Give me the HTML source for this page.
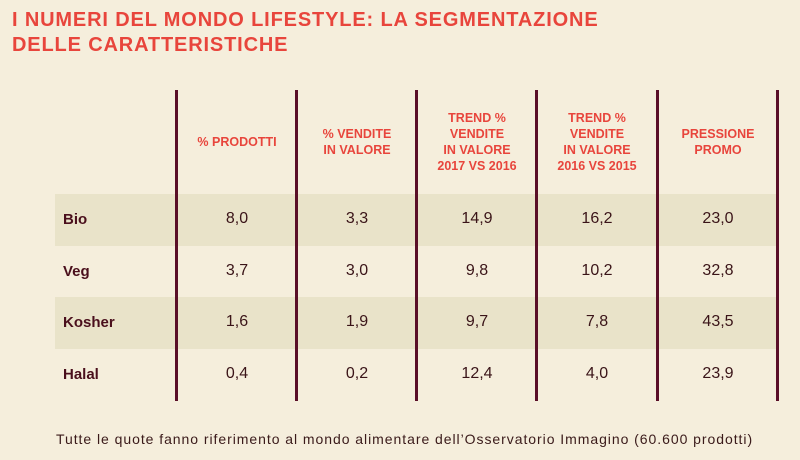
<!DOCTYPE html>
<html><head><meta charset="utf-8"><style>
body{margin:0;width:800px;height:460px;background:#f5eedc;position:relative;overflow:hidden;font-family:"Liberation Sans",sans-serif}
.t{position:absolute;left:12px;top:8px;color:#e8453c;font-weight:bold;font-size:20px;line-height:25px;letter-spacing:0.85px}
.band{position:absolute;left:55px;width:722px;height:52px;background:#e9e3c9}
.bar{position:absolute;top:90px;width:3px;height:311px;background:#5a0f28}
.h{position:absolute;color:#e8453c;font-weight:bold;font-size:12.5px;line-height:16px;text-align:center;width:120px}
.l{position:absolute;left:63px;color:#4a0f1c;font-weight:bold;font-size:15px}
.v{position:absolute;width:120px;text-align:center;color:#3a1418;font-size:16px}
.f{position:absolute;left:56px;top:431px;font-size:14px;letter-spacing:0.95px;color:#3a1a1a;white-space:nowrap}
</style></head><body>
<div class="t">I NUMERI DEL MONDO LIFESTYLE: LA SEGMENTAZIONE<br>DELLE CARATTERISTICHE</div>
<div class="band" style="top:194px"></div>
<div class="band" style="top:297px"></div>
<div class="bar" style="left:175px"></div><div class="bar" style="left:295px"></div><div class="bar" style="left:415px"></div><div class="bar" style="left:535px"></div><div class="bar" style="left:656px"></div><div class="bar" style="left:776px"></div>
<div class="h" style="left:177px;top:134px">% PRODOTTI</div>
<div class="h" style="left:297px;top:126px">% VENDITE<br>IN VALORE</div>
<div class="h" style="left:417px;top:110px">TREND %<br>VENDITE<br>IN VALORE<br>2017 VS 2016</div>
<div class="h" style="left:537px;top:110px">TREND %<br>VENDITE<br>IN VALORE<br>2016 VS 2015</div>
<div class="h" style="left:658px;top:126px">PRESSIONE<br>PROMO</div>
<div class="l" style="top:211px">Bio</div><div class="l" style="top:263px">Veg</div><div class="l" style="top:314px">Kosher</div><div class="l" style="top:366px">Halal</div>
<div class="v" style="left:177px;top:210px">8,0</div><div class="v" style="left:297px;top:210px">3,3</div><div class="v" style="left:417px;top:210px">14,9</div><div class="v" style="left:537px;top:210px">16,2</div><div class="v" style="left:658px;top:210px">23,0</div>
<div class="v" style="left:177px;top:262px">3,7</div><div class="v" style="left:297px;top:262px">3,0</div><div class="v" style="left:417px;top:262px">9,8</div><div class="v" style="left:537px;top:262px">10,2</div><div class="v" style="left:658px;top:262px">32,8</div>
<div class="v" style="left:177px;top:313px">1,6</div><div class="v" style="left:297px;top:313px">1,9</div><div class="v" style="left:417px;top:313px">9,7</div><div class="v" style="left:537px;top:313px">7,8</div><div class="v" style="left:658px;top:313px">43,5</div>
<div class="v" style="left:177px;top:365px">0,4</div><div class="v" style="left:297px;top:365px">0,2</div><div class="v" style="left:417px;top:365px">12,4</div><div class="v" style="left:537px;top:365px">4,0</div><div class="v" style="left:658px;top:365px">23,9</div>
<div class="f">Tutte le quote fanno riferimento al mondo alimentare dell’Osservatorio Immagino (60.600 prodotti)</div>
</body></html>
